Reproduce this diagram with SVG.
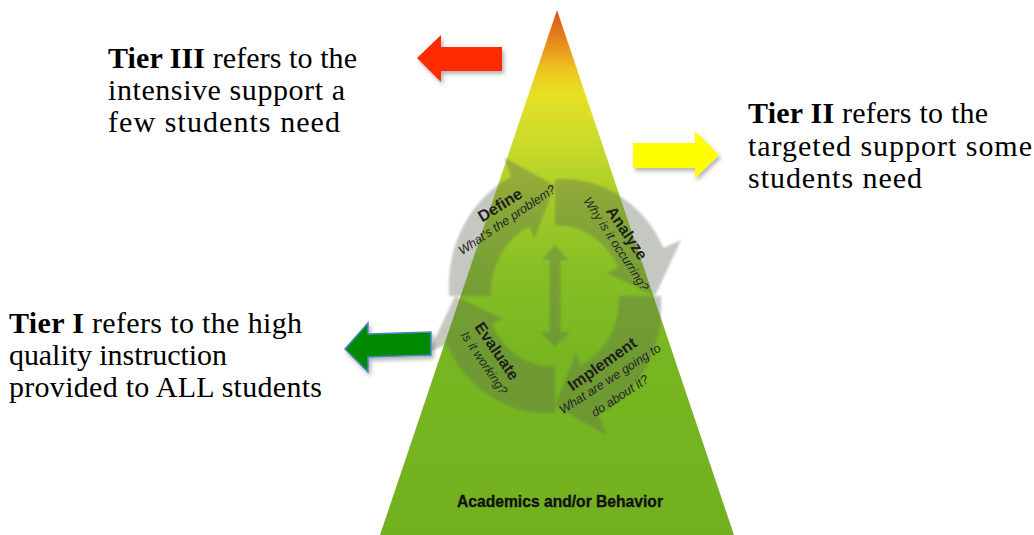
<svg xmlns="http://www.w3.org/2000/svg" width="1034" height="535" viewBox="0 0 1034 535">
  <defs>
    <linearGradient id="tri" gradientUnits="userSpaceOnUse" x1="0" y1="10" x2="0" y2="535">
      <stop offset="0" stop-color="#d8501a"/>
      <stop offset="0.06" stop-color="#e8891c"/>
      <stop offset="0.11" stop-color="#ecc21f"/>
      <stop offset="0.16" stop-color="#e6e124"/>
      <stop offset="0.26" stop-color="#c8da2a"/>
      <stop offset="0.37" stop-color="#a2cb28"/>
      <stop offset="0.5" stop-color="#86bf24"/>
      <stop offset="0.65" stop-color="#78b621"/>
      <stop offset="1" stop-color="#72b01f"/>
    </linearGradient>
    <filter id="sh" x="-20%" y="-30%" width="150%" height="170%">
      <feDropShadow dx="2" dy="3" stdDeviation="2" flood-color="#000" flood-opacity="0.3"/>
    </filter>
    <filter id="soft" x="-10%" y="-10%" width="120%" height="120%">
      <feGaussianBlur stdDeviation="0.8"/>
    </filter>
  </defs>
  <style>
    .tier { font-family: "Liberation Serif", "Times New Roman", serif; font-size: 30px; fill: #000; }
    .tier .b { font-weight: bold; }
    .ct { font-family: "Liberation Sans", Arial, sans-serif; font-weight: bold; font-size: 16px; fill: #1e1e1e; text-anchor: middle; dominant-baseline: central; }
    .cs { font-family: "Liberation Sans", Arial, sans-serif; font-style: italic; font-size: 12.5px; fill: #262626; text-anchor: middle; dominant-baseline: central; }
    .cyc { fill: #5f6a55; }
  </style>

  <g id="pyramid">
    <polygon points="557,10 734,535 380,535" fill="url(#tri)"/>
  </g>

  <g id="cycle">
    <g opacity="0.36" filter="url(#soft)">
      <g transform="translate(555,296) scale(1,1.1)">
        <path id="arrow-define" class="cyc" d="M -106,0 A 111 111 0 0 1 -43.8,-108.4 L -50.95,-126.1 L 0,-100 L -20.98,-51.92 L -25.5,-63.1 A 66 66 0 0 0 -64,0 Z"/>
        <path id="arrow-analyze" class="cyc" d="M 0,-106 A 111 111 0 0 1 108.4,-43.8 L 126.1,-50.95 L 100,0 L 51.92,-20.98 L 63.1,-25.5 A 66 66 0 0 0 0,-64 Z"/>
        <path id="arrow-implement" class="cyc" d="M 106,0 A 111 111 0 0 1 43.8,108.4 L 50.95,126.1 L 0,100 L 20.98,51.92 L 25.5,63.1 A 66 66 0 0 0 64,0 Z"/>
        <path id="arrow-evaluate" class="cyc" d="M 0,106 A 111 111 0 0 1 -108.4,43.8 L -126.1,50.95 L -100,0 L -51.92,20.98 L -63.1,25.5 A 66 66 0 0 0 0,64 Z"/>
      </g>
      <path id="arrow-center" class="cyc" d="M 555,245 L 568,260 L 560.5,260 L 560.5,332 L 570,332 L 555,347 L 540,332 L 549.5,332 L 549.5,260 L 542,260 Z"/>
    </g>
    <g id="label-define">
      <text class="ct" x="500" y="205" transform="rotate(-32 500 205)">Define</text>
      <text class="cs" x="507" y="220" transform="rotate(-34 507 220)">What's the problem?</text>
    </g>
    <g id="label-analyze">
      <text class="ct" x="627" y="233" transform="rotate(56 627 233)">Analyze</text>
      <text class="cs" x="616" y="244" transform="rotate(57 616 244)">Why is it occurring?</text>
    </g>
    <g id="label-implement">
      <text class="ct" x="602" y="364" transform="rotate(-35 602 364)">Implement</text>
      <text class="cs" x="610" y="379" transform="rotate(-33 610 379)">What are we going to</text>
      <text class="cs" x="620" y="396" transform="rotate(-33 620 396)">do about it?</text>
    </g>
    <g id="label-evaluate">
      <text class="ct" x="497" y="351" transform="rotate(56 497 351)">Evaluate</text>
      <text class="cs" x="484" y="363" transform="rotate(56 484 363)">Is it working?</text>
    </g>
  </g>

  <g id="base-label">
    <text x="560" y="507" font-family="Liberation Sans, Arial, sans-serif" font-weight="bold" font-size="16.5" fill="#111" stroke="#111" stroke-width="0.35" text-anchor="middle" textLength="206" lengthAdjust="spacingAndGlyphs">Academics and/or Behavior</text>
  </g>

  <g id="connectors">
    <polygon id="arrow-red" points="417,58 441,35 441,47 502,47 502,71 441,71 441,82" fill="#ff2a00" filter="url(#sh)"/>
    <polygon id="arrow-yellow" points="719,155 695,131 695,143 633,143 633,168 695,168 695,178" fill="#ffff00" filter="url(#sh)"/>
    <polygon id="arrow-green" points="345,349 368,323 368,334 431,332 431,355 368,357 368,372" fill="#008a00" stroke="#4a86c8" stroke-width="1.5" stroke-linejoin="miter" filter="url(#sh)"/>
  </g>

  <g id="tier3">
    <text class="tier" x="108" y="68" textLength="249"><tspan class="b">Tier III</tspan> refers to the</text>
    <text class="tier" x="108" y="100" textLength="237">intensive support a</text>
    <text class="tier" x="108" y="132" textLength="232">few students need</text>
  </g>
  <g id="tier2">
    <text class="tier" x="748" y="123" textLength="240"><tspan class="b">Tier II</tspan> refers to the</text>
    <text class="tier" x="748" y="156" textLength="284">targeted support some</text>
    <text class="tier" x="748" y="188" textLength="174">students need</text>
  </g>
  <g id="tier1">
    <text class="tier" x="9" y="333" textLength="293"><tspan class="b">Tier I</tspan> refers to the high</text>
    <text class="tier" x="9" y="365" textLength="218">quality instruction</text>
    <text class="tier" x="9" y="397" textLength="313">provided to ALL students</text>
  </g>
</svg>
